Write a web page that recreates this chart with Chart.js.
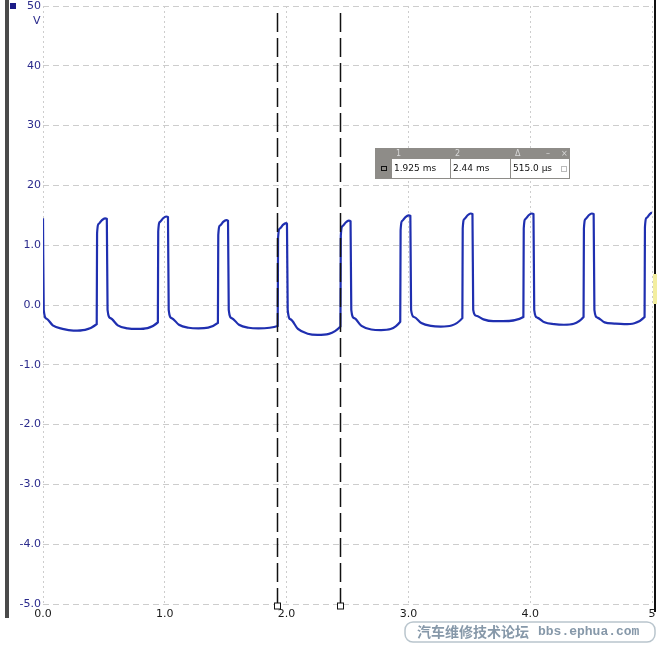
<!DOCTYPE html>
<html>
<head>
<meta charset="utf-8">
<script src="https://cdn.jsdelivr.net/npm/chart.js@4.4.1/dist/chart.umd.min.js"></script>
<style>
  html, body { margin: 0; padding: 0; background: #fff; }
</style>
</head>
<body>
<canvas id="scopeChart" width="659" height="646"></canvas>
<script>
// axis labels as they show on the scope screen
const xTickLabels = ["0.0", "1.0", "2.0", "3.0", "4.0", "5"];
const yTickLabels = ["-5.0", "-4.0", "-3.0", "-2.0", "-1.0", "0.0", "1.0", "20", "30", "40", "50"];

// cursor positions (ms) and the readout box
const cursorMs = [1.925, 2.44];
const readoutHead = ["1", "2", "\u0394"];
const readoutText = ["1.925 ms", "2.44 ms", "515.0 \u00b5s"];

// trace (time in ms, volts)
const waveMs = [
  0, 0.006, 0.03, 0.08, 0.16, 0.25, 0.441,
  0.444, 0.459, 0.484, 0.509, 0.524, 0.530, 0.554, 0.614, 0.694, 0.774, 0.943,
  0.946, 0.961, 0.986, 1.011, 1.026, 1.032, 1.056, 1.116, 1.196, 1.276, 1.436,
  1.439, 1.454, 1.479, 1.504, 1.519, 1.525, 1.549, 1.609, 1.689, 1.769, 1.927,
  1.930, 1.945, 1.970, 1.995, 2.003, 2.009, 2.033, 2.093, 2.173, 2.253, 2.442,
  2.445, 2.460, 2.485, 2.510, 2.525, 2.531, 2.555, 2.615, 2.695, 2.775, 2.933,
  2.936, 2.951, 2.976, 3.001, 3.016, 3.022, 3.046, 3.106, 3.186, 3.266, 3.443,
  3.446, 3.461, 3.486, 3.511, 3.526, 3.532, 3.556, 3.616, 3.696, 3.776, 3.944,
  3.947, 3.962, 3.987, 4.012, 4.027, 4.033, 4.057, 4.117, 4.197, 4.277, 4.438,
  4.441, 4.456, 4.481, 4.506, 4.521, 4.527, 4.551, 4.611, 4.691, 4.771, 4.939,
  4.942, 4.957, 4.982, 5.0
];
const waveV = [
  14.5, -0.8, -2.3, -3.4, -4.0, -4.3, -3.2,
  12.0, 13.6, 14.2, 14.5, 14.4, -0.8, -2.2, -3.4, -3.9, -4.0, -2.9,
  12.3, 13.9, 14.5, 14.8, 14.7, -0.8, -2.2, -3.3, -3.8, -3.9, -3.0,
  11.7, 13.3, 13.9, 14.2, 14.1, -0.8, -2.2, -3.3, -3.8, -3.9, -3.5,
  11.2, 12.8, 13.4, 13.7, 13.6, -0.8, -2.4, -4.0, -4.8, -5.0, -3.6,
  11.6, 13.2, 13.8, 14.1, 14.0, -0.8, -2.2, -3.5, -4.1, -4.2, -2.8,
  12.5, 14.1, 14.7, 15.0, 14.9, -0.8, -2.0, -3.0, -3.5, -3.6, -2.2,
  12.8, 14.4, 15.0, 15.3, 15.2, -0.8, -1.8, -2.4, -2.7, -2.7, -2.0,
  12.8, 14.4, 15.0, 15.3, 15.2, -0.8, -2.1, -2.9, -3.2, -3.3, -2.0,
  12.8, 14.4, 15.0, 15.3, 15.2, -0.8, -2.1, -2.9, -3.1, -3.2, -2.0,
  13.0, 14.6, 15.2, 15.5
];

const labelFont = { family: "DejaVu Sans", size: 11 };

// frame bits, cursors, readout box and watermark
const scopeDecor = {
  id: "scopeDecor",
  afterDraw(chart) {
    const ctx = chart.ctx;
    const xs = chart.scales.x;
    ctx.save();

    // left bar + channel square
    ctx.fillStyle = "#4a4a4a";
    ctx.fillRect(5, 0, 4, 618);
    ctx.fillStyle = "#1c1c86";
    ctx.fillRect(10, 3, 6, 6);

    // unit label
    ctx.fillStyle = "#2a2a8c";
    ctx.font = "11px 'DejaVu Sans'";
    ctx.textAlign = "left";
    ctx.textBaseline = "middle";
    ctx.fillText("V", 33, 21);

    // right edge
    ctx.fillStyle = "#111";
    ctx.fillRect(654, 0, 2, 612);
    ctx.fillStyle = "#f3eea0";
    ctx.fillRect(653, 274, 4, 30);

    // cursors
    cursorMs.forEach((v) => {
      const px = Math.round(xs.getPixelForValue(v)) + 0.5;
      ctx.strokeStyle = "#111";
      ctx.lineWidth = 1.5;
      ctx.setLineDash([19, 6]);
      ctx.beginPath();
      ctx.moveTo(px, 13);
      ctx.lineTo(px, 603);
      ctx.stroke();
      ctx.setLineDash([]);
      ctx.lineWidth = 1;
      ctx.fillStyle = "#fff";
      ctx.fillRect(px - 3, 603, 6, 6);
      ctx.strokeRect(px - 3, 603, 6, 6);
    });

    // readout box
    const bx = 375, by = 148, bw = 195, hh = 11, rh = 20;
    ctx.fillStyle = "#8e8c88";
    ctx.fillRect(bx, by, bw, hh + rh);
    const cells = [[392, 450], [451, 510], [511, 569]];
    ctx.fillStyle = "#fff";
    cells.forEach(([a, b]) => ctx.fillRect(a, by + hh, b - a, rh - 1));
    ctx.strokeStyle = "#111";
    ctx.strokeRect(381.5, by + hh + 7.5, 5, 4);
    ctx.font = "8px 'DejaVu Sans'";
    ctx.fillStyle = "#d8d8d8";
    ctx.textBaseline = "middle";
    readoutHead.forEach((t, i) => ctx.fillText(t, cells[i][0] + 4, by + hh / 2 + 0.5));
    ctx.fillText("\u2013", 546, by + hh / 2);
    ctx.fillText("\u00d7", 561, by + hh / 2);
    ctx.font = "9px 'DejaVu Sans'";
    ctx.fillStyle = "#111";
    readoutText.forEach((t, i) => ctx.fillText(t, cells[i][0] + 2, by + hh + rh / 2));
    ctx.strokeStyle = "#bbb";
    ctx.strokeRect(561.5, by + hh + 7.5, 5, 5);

    // watermark
    ctx.strokeStyle = "#b9c5cd";
    ctx.lineWidth = 1.5;
    ctx.beginPath();
    ctx.roundRect(405, 622, 250, 20, 8);
    ctx.stroke();
    ctx.fillStyle = "#8698a9";
    ctx.textBaseline = "middle";
    ctx.font = "bold 14px 'Noto Sans CJK SC'";
    ctx.fillText("\u6c7d\u8f66\u7ef4\u4fee\u6280\u672f\u8bba\u575b", 417, 632);
    ctx.font = "bold 13px 'Liberation Mono'";
    ctx.fillText("bbs.ephua.com", 538, 632);

    ctx.restore();
  }
};

new Chart(document.getElementById("scopeChart"), {
  type: "line",
  data: {
    datasets: [
      {
        data: waveMs.map((t, i) => ({ x: t, y: waveV[i] })),
        borderColor: "#1f2fb0",
        borderWidth: 2.2,
        pointRadius: 0,
        cubicInterpolationMode: "monotone",
        fill: false,
      },
    ],
  },
  options: {
    responsive: false,
    animation: false,
    layout: { padding: { top: 6, right: 7, left: 0, bottom: 0 } },
    plugins: { legend: { display: false }, tooltip: { enabled: false } },
    scales: {
      x: {
        type: "linear",
        min: 0,
        max: 5,
        afterFit: (s) => { s.height = 42; s.paddingLeft = 0; s.paddingRight = 0; },
        ticks: {
          stepSize: 1,
          autoSkip: false,
          maxRotation: 0,
          padding: 4,
          color: "#1a1a1a",
          font: labelFont,
          callback: (v) => xTickLabels[Math.round(v)],
        },
        grid: { color: "#cdcdcd", drawTicks: false },
        border: { display: false, dash: [2, 3] },
      },
      y: {
        min: -50,
        max: 50,
        afterFit: (s) => { s.width = 43; s.paddingTop = 0; s.paddingBottom = 0; },
        ticks: {
          stepSize: 10,
          padding: 2,
          color: "#2a2a8c",
          font: labelFont,
          callback: (v) => yTickLabels[Math.round((v + 50) / 10)],
        },
        grid: { color: "#cdcdcd", drawTicks: false },
        border: { display: false, dash: [6, 4] },
      },
    },
  },
  plugins: [scopeDecor],
});
</script>
</body>
</html>
